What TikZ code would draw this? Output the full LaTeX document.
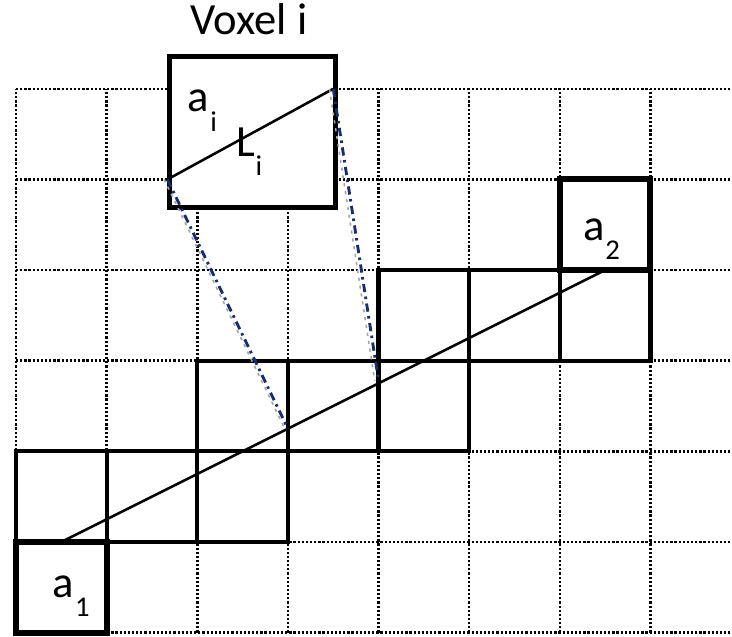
\documentclass[tikz,border=0pt]{standalone}
\usepackage{fontspec}
\setmainfont{Carlito}
\newcommand{\lowsub}[1]{\kern0.3pt\raisebox{-6pt}{\fontsize{9}{9}\selectfont #1}}
\definecolor{navy}{RGB}{25,45,110}
\tikzset{
  gridline/.style={line width=0.8pt, dash pattern=on 0.7pt off 0.6pt},
  voxelbox/.style={line width=1.3pt},
  endbox/.style={line width=1.9pt},
  ray/.style={line width=0.8pt},
  zoomline/.style={line width=0.9pt, draw=navy, dash pattern=on 2.6pt off 1.4pt on 0.8pt off 1.4pt},
  zoomshade/.style={line width=0.5pt, draw=gray!70, dash pattern=on 1pt off 1.5pt},
  label/.style={font=\fontsize{14}{16}\selectfont, inner sep=0pt, anchor=base west},
}

\begin{document}
\begin{tikzpicture}
    \useasboundingbox (-0.177,-0.044) rectangle (7.90,6.98);

    % dotted voxel grid
    \foreach \y in {0,...,6} \draw[gridline] (0,\y) -- (7.90,\y);
    \foreach \x in {0,...,7} \draw[gridline] (\x,0) -- (\x,6);

    % voxels crossed by the ray
    \foreach \x/\y in {0/1,1/1,2/1,2/2,3/2,4/2,4/3,5/3,6/3}
        \draw[voxelbox] (\x,\y) rectangle ++(1,1);
    \draw[endbox] (0,0) rectangle (1,1);
    \draw[endbox] (6,4) rectangle (7,5);

    % the ray
    \coordinate (start) at (0.5,1);
    \coordinate (end) at (6.5,4);
    \draw[ray] (start) -- (end);

    % voxel i, enlarged
    \coordinate (hitin) at (3,2.25);
    \coordinate (hitout) at (4,2.78);
    \node[draw, fill=white, line width=1.5pt, inner sep=0pt, anchor=south west,
          minimum width=1.83cm, minimum height=1.67cm] (zoombox) at (1.67,4.66) {};
    \coordinate (zin) at (1.67,5);
    \coordinate (zout) at (3.5,6);
    \draw[ray] (zin) -- (zout);
    \draw[zoomshade] ([xshift=-1pt]zin) -- ([xshift=-1pt]hitin);
    \draw[zoomshade] ([xshift=-1.2pt]zout) -- ([xshift=-1.2pt]hitout);
    \draw[zoomline] (zin) -- (hitin);
    \draw[zoomline] (zout) -- (hitout);

    \node[label, anchor=base] (voxtitle) at (2.57,6.60) {Voxel i};
    \node[label] (ai) at (1.89,5.745) {a\lowsub{i}};
    \node[label] (li) at (2.42,5.25) {L\lowsub{i}};
    \node[label] (atwo) at (6.25,4.33) {a\lowsub{2}};
    \node[label] (aone) at (0.40,0.387) {a\lowsub{1}};
\end{tikzpicture}
\end{document}
